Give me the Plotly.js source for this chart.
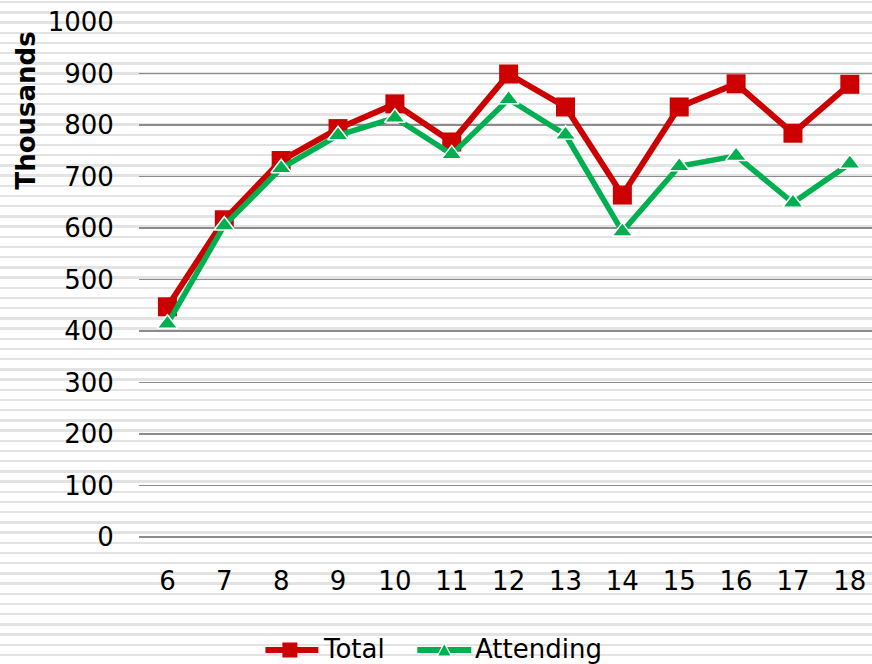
<!DOCTYPE html>
<html>
<head>
<meta charset="utf-8">
<script src="https://cdn.plot.ly/plotly-3.0.1.min.js"></script>
<style>
html, body { margin:0; padding:0; width:872px; height:664px; overflow:hidden; }
html { background: repeating-linear-gradient(to bottom, #ffffff 0px, #ffffff 1px, #e3e3e3 1px, #e3e3e3 3.4px, #ffffff 3.4px, #ffffff 10.2px); }
body { background: transparent; }
#chart { width:872px; height:690px; }
</style>
</head>
<body>
<div id="chart"></div>
<script>
const ages = [6, 7, 8, 9, 10, 11, 12, 13, 14, 15, 16, 17, 18];
const totalValues = [447, 616, 731, 793, 841, 767, 899, 835, 664, 835, 880, 784, 879];
const attendingValues = [414, 605, 716, 780, 814, 743, 850, 781, 593, 720, 740, 649, 725];
const yTicks = [0, 100, 200, 300, 400, 500, 600, 700, 800, 900, 1000];
const seriesNames = ['Total', 'Attending'];
const seriesColors = ['#CC0000', '#00B050'];

const font = 'DejaVu Sans, Verdana, sans-serif';
const FS = 26;

// plot area in pixels (used only to place the hand-drawn legend in paper units)
const L = 138.5, R = 872, T = 22, B = 537;
const px = v => (v - L) / (R - L);
const py = v => (B - v) / (B - T);

const traces = [
  {
    x: ages, y: totalValues, name: seriesNames[0], type: 'scatter', mode: 'lines+markers',
    line: {color: seriesColors[0], width: 6},
    marker: {symbol: 'square', size: 19, color: seriesColors[0], line: {width: 0}},
    cliponaxis: false, showlegend: false
  },
  {
    x: ages, y: attendingValues, name: seriesNames[1], type: 'scatter', mode: 'lines+markers',
    line: {color: seriesColors[1], width: 5.5},
    marker: {symbol: 'triangle-up', size: 18, color: seriesColors[1], line: {width: 1.5, color: '#ffffff'}},
    cliponaxis: false, showlegend: false
  }
];

// legend keys
const legY = 650;
const shapes = [
  {type: 'line', xref: 'paper', yref: 'paper', x0: px(265), x1: px(318), y0: py(legY), y1: py(legY),
   line: {color: seriesColors[0], width: 6}},
  {type: 'rect', xref: 'paper', yref: 'paper', x0: px(282), x1: px(297), y0: py(legY - 7.5), y1: py(legY + 7.5),
   fillcolor: seriesColors[0], line: {width: 0}},
  {type: 'line', xref: 'paper', yref: 'paper', x0: px(417), x1: px(471), y0: py(legY), y1: py(legY),
   line: {color: seriesColors[1], width: 6}},
  {type: 'path', xref: 'paper', yref: 'paper',
   path: `M ${px(437)} ${py(legY + 6)} L ${px(451)} ${py(legY + 6)} L ${px(444)} ${py(legY - 7)} Z`,
   fillcolor: seriesColors[1], line: {color: '#ffffff', width: 1.2}}
];

const annotations = [
  {xref: 'paper', yref: 'paper', x: px(25), y: py(111), text: '<b>Thousands</b>', textangle: -90,
   showarrow: false, font: {family: font, size: FS, color: '#000'}, xanchor: 'center', yanchor: 'middle'},
  {xref: 'paper', yref: 'paper', x: px(321), y: py(legY - 1), text: seriesNames[0], showarrow: false,
   xanchor: 'left', yanchor: 'middle', font: {family: font, size: FS, color: '#000'}},
  {xref: 'paper', yref: 'paper', x: px(473), y: py(legY - 1), text: seriesNames[1], showarrow: false,
   xanchor: 'left', yanchor: 'middle', font: {family: font, size: FS, color: '#000'}}
];

const layout = {
  width: 872, height: 690,
  margin: {l: L, r: 0, t: T, b: 690 - B},
  paper_bgcolor: 'rgba(0,0,0,0)',
  plot_bgcolor: 'rgba(0,0,0,0)',
  font: {family: font, size: FS, color: '#000000'},
  showlegend: false,
  xaxis: {
    range: [5.5, 18.39], tickvals: ages, ticktext: ages.map(String),
    showgrid: false, zeroline: false, showline: false,
    ticks: 'outside', ticklen: 21, tickcolor: 'rgba(0,0,0,0)',
    tickfont: {family: font, size: FS, color: '#000000'}
  },
  yaxis: {
    range: [0, 1000], tickvals: yTicks, ticktext: yTicks.map(String),
    showgrid: true, gridcolor: '#8c8c8c', gridwidth: 1.5,
    zeroline: true, zerolinecolor: '#8c8c8c', zerolinewidth: 1.5, showline: false,
    ticks: 'outside', ticklen: 19, tickcolor: 'rgba(0,0,0,0)',
    tickfont: {family: font, size: FS, color: '#000000'}
  },
  shapes: shapes,
  annotations: annotations
};

Plotly.newPlot('chart', traces, layout, {displayModeBar: false, staticPlot: true});
</script>
</body>
</html>
